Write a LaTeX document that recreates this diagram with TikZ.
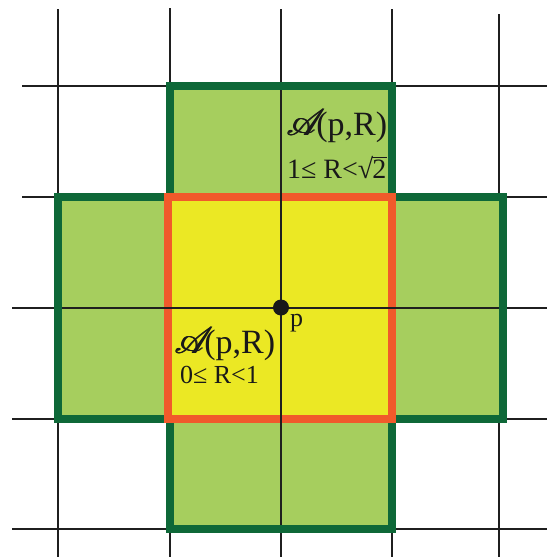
\documentclass[tikz,border=0pt]{standalone}
\usepackage{fontspec}
\setmainfont{Liberation Serif}
\font\myrsfs=rsfs10 at 37pt
\definecolor{darkgreen}{HTML}{0E6838}
\definecolor{lightgreen}{HTML}{A6CE5E}
\definecolor{yellowfill}{HTML}{EBE824}
\definecolor{orangeline}{HTML}{F15A2B}
\newcommand{\mysqrttwo}{\mbox{√\kern-0.03em\rlap{\rule[0.70em]{0.52em}{0.045em}}2}}
\newcommand{\myscriptA}{{\myrsfs\rlap{A}\kern0.6pt\rlap{A}\kern0.6pt A}\kern-0.5pt}
\tikzset{
  gridline/.style={line width=1.5pt, draw=black!88},
  crossoutline/.style={line width=7.5pt, draw=darkgreen, fill=lightgreen, line join=miter},
  innersquare/.style={line width=7.5pt, draw=orangeline, fill=yellowfill, line join=miter},
  labeltext/.style={inner sep=0pt, outer sep=0pt, text=black!90, anchor=base west},
}
\begin{document}
\begin{tikzpicture}[x=1pt, y=-1pt]
\useasboundingbox (0,0) rectangle (547,557);
% grid coordinates
\coordinate (v1t) at (58,9);   \coordinate (v1b) at (58,557);
\coordinate (v2t) at (170,8);  \coordinate (v2b) at (170,557);
\coordinate (v3t) at (281,9);  \coordinate (v3b) at (281,557);
\coordinate (v4t) at (392,9);  \coordinate (v4b) at (392,557);
\coordinate (v5t) at (499,14); \coordinate (v5b) at (499,557);
\coordinate (h1l) at (22,86);  \coordinate (h1r) at (547,86);
\coordinate (h2l) at (22,197); \coordinate (h2r) at (547,197);
\coordinate (h3l) at (12,308); \coordinate (h3r) at (547,308);
\coordinate (h4l) at (12,419); \coordinate (h4r) at (547,419);
\coordinate (h5l) at (12,529); \coordinate (h5r) at (547,529);
\foreach \i in {1,...,5} {
  \draw[gridline] (v\i t) -- (v\i b);
  \draw[gridline] (h\i l) -- (h\i r);
}
% cross region
\draw[crossoutline] (170,86) -- (392,86) -- (392,197) -- (503,197) -- (503,419)
  -- (392,419) -- (392,529) -- (170,529) -- (170,419) -- (58,419) -- (58,197)
  -- (170,197) -- cycle;
\draw[innersquare] (168,197) rectangle (392,419);
% inner grid lines
\coordinate (ivt) at (281,90);  \coordinate (ivb) at (281,525);
\coordinate (ihl) at (62,308);  \coordinate (ihr) at (499,308);
\draw[gridline] (ivt) -- (ivb);
\draw[gridline] (ihl) -- (ihr);
% point p
\node[circle, fill=black!90, minimum size=16pt, inner sep=0pt] (p) at (281,307.5) {};
\node[labeltext] (plabel) at (290,326) {\fontsize{26}{26}\selectfont p};
% labels
\node[labeltext] (topA) at (286,135) {\fontsize{34}{34}\selectfont \myscriptA(p,R)};
\node[labeltext] (topR) at (287,178) {\fontsize{28}{28}\selectfont 1≤ R<\mysqrttwo};
\node[labeltext] (botA) at (174,353) {\fontsize{34}{34}\selectfont \myscriptA(p,R)};
\node[labeltext] (botR) at (180,383) {\fontsize{26}{26}\selectfont 0≤ R<1};
\end{tikzpicture}
\end{document}
